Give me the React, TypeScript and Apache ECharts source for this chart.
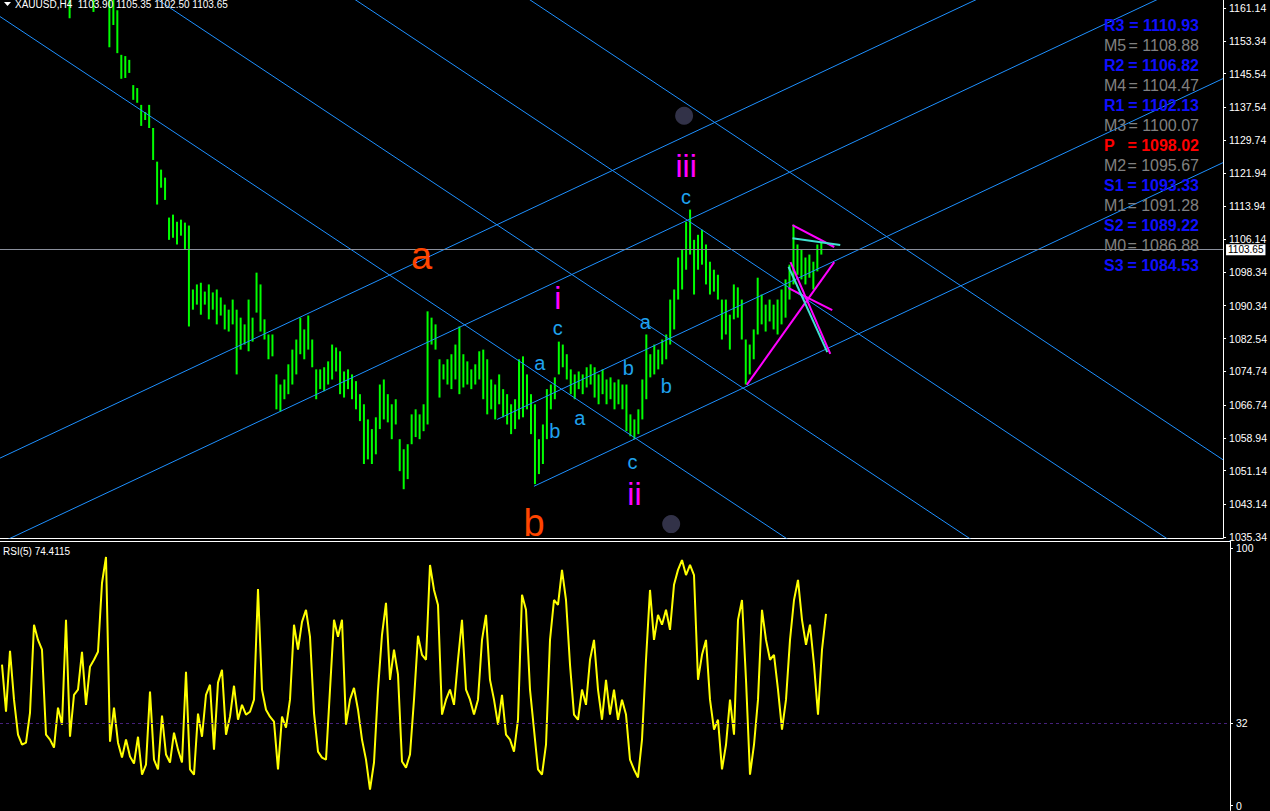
import React, { useEffect, useRef } from "react";
import * as echarts from "echarts";

// ---------- DATA ----------
const symbolName = "XAUUSD,H4";
const lastOHLC = [1103.9, 1105.35, 1102.5, 1103.65];
const lastPrice = 1103.65;
const rsiName = "RSI(5)";
const rsiLast = 74.4115;

const priceTicks = [1035.34, 1043.14, 1051.14, 1058.94, 1066.74, 1074.74, 1082.54, 1090.34, 1098.34, 1106.14, 1113.94, 1121.94, 1129.74, 1137.54, 1145.54, 1153.34, 1161.14];
const rsiTicks = [0, 32, 100];
const rsiLevel = 32;

const highs = [
  1171, 1173, 1172, 1170, 1174, 1176, 1175, 1172, 1170, 1173,
  1175, 1172, 1169, 1171, 1170, 1169, 1168, 1166, 1170, 1171,
  1170, 1169, 1168, 1166, 1170, 1172, 1170, 1167, 1165, 1160.6,
  1150.0, 1149.7, 1148.8, 1142.8, 1142.1, 1138.1, 1136.4, 1138.1, 1132.6, 1124.6,
  1122.7, 1120.8, 1111.3, 1112.0, 1110.3, 1110.8, 1110.1, 1109.4, 1094.2, 1095.4,
  1095.8, 1093.7, 1095.4, 1093.5, 1094.2, 1092.3, 1090.6, 1089.4, 1091.8, 1089.4,
  1087.5, 1085.9, 1091.8, 1087.5, 1098.2, 1095.4, 1087.1, 1083.5, 1083.5, 1074.0,
  1071.6, 1072.8, 1076.4, 1079.9, 1082.3, 1087.5, 1084.7, 1088.0, 1082.3, 1075.2,
  1075.2, 1075.7, 1077.1, 1081.1, 1080.4, 1079.5, 1074.7, 1075.2, 1074.0, 1072.4,
  1069.3, 1066.9, 1063.3, 1061.0, 1063.8, 1071.6, 1072.8, 1069.3, 1066.9, 1068.1,
  1058.6, 1056.2, 1057.4, 1064.5, 1065.7, 1064.5, 1066.9, 1089.0, 1087.5, 1085.9,
  1077.6, 1076.4, 1077.6, 1078.8, 1081.1, 1085.4, 1078.8, 1077.1, 1075.2, 1076.4,
  1079.5, 1079.9, 1077.6, 1072.8, 1071.6, 1074.0, 1070.5, 1069.3, 1066.9, 1068.1,
  1077.6, 1078.3, 1074.0, 1069.3, 1066.9, 1058.6, 1062.1, 1070.5, 1071.6, 1073.3,
  1081.8, 1081.1, 1078.8, 1075.2, 1074.0, 1074.7, 1074.0, 1075.7, 1076.4, 1075.7,
  1074.0, 1075.2, 1072.8, 1073.3, 1072.1, 1072.8, 1071.6, 1071.6, 1064.5, 1063.3,
  1065.7, 1072.8, 1083.5, 1078.8, 1081.1, 1079.9, 1082.3, 1083.5, 1091.8, 1094.2,
  1101.8, 1103.7, 1110.3, 1113.2, 1106.0, 1107.2, 1108.4, 1104.9, 1100.8, 1098.9,
  1097.7, 1091.8, 1091.8, 1088.2, 1095.4, 1094.7, 1091.8, 1082.3, 1081.1, 1084.7,
  1097.0, 1093.0, 1090.6, 1091.8, 1090.6, 1091.8, 1094.2, 1096.6, 1100.1, 1109.6,
  1104.9, 1103.7, 1101.8, 1102.5, 1100.8, 1104.9, 1105.35
];

const lows = [
  1166, 1167, 1166, 1165, 1168, 1169, 1167, 1165, 1164, 1166,
  1168, 1165, 1164, 1165, 1164, 1164, 1164, 1158.7, 1164, 1165,
  1164.5, 1164, 1163.5, 1160.2, 1164, 1165, 1163.5, 1151.8, 1157.1, 1150.4,
  1144.3, 1144.5, 1145.7, 1139.3, 1138.6, 1133.1, 1134.5, 1132.6, 1125.0, 1114.4,
  1118.4, 1115.5, 1106.0, 1106.5, 1104.9, 1107.0, 1103.7, 1085.4, 1089.4, 1090.6,
  1088.2, 1090.6, 1087.1, 1089.4, 1085.9, 1088.0, 1084.7, 1084.2, 1085.9, 1074.0,
  1079.9, 1081.1, 1079.5, 1081.8, 1088.7, 1084.2, 1082.3, 1077.6, 1078.3, 1065.7,
  1065.2, 1068.1, 1069.3, 1071.6, 1074.0, 1078.8, 1077.6, 1079.9, 1075.7, 1068.1,
  1070.5, 1070.0, 1071.6, 1072.8, 1074.7, 1069.3, 1068.5, 1070.5, 1068.1, 1065.7,
  1062.9, 1052.7, 1053.8, 1052.7, 1055.0, 1061.0, 1063.3, 1062.6, 1058.6, 1062.1,
  1051.0, 1046.7, 1049.1, 1057.4, 1059.1, 1058.6, 1060.5, 1062.1, 1081.1, 1079.9,
  1068.5, 1072.8, 1071.6, 1070.5, 1072.8, 1069.3, 1070.9, 1071.6, 1070.5, 1071.6,
  1072.8, 1068.1, 1064.5, 1065.7, 1063.3, 1066.9, 1063.8, 1062.1, 1059.8, 1061.0,
  1063.3, 1063.8, 1065.7, 1059.8, 1047.9, 1050.3, 1052.7, 1058.6, 1065.7, 1068.1,
  1074.0, 1075.7, 1072.8, 1069.3, 1068.1, 1070.5, 1069.3, 1070.9, 1071.6, 1068.5,
  1066.9, 1069.3, 1066.9, 1068.1, 1065.7, 1066.9, 1065.7, 1060.5, 1059.3, 1058.6,
  1059.8, 1063.3, 1068.1, 1073.3, 1074.0, 1075.2, 1076.4, 1077.6, 1081.1, 1084.7,
  1091.8, 1094.2, 1098.9, 1102.5, 1093.0, 1098.9, 1100.1, 1095.4, 1093.0, 1093.7,
  1091.8, 1082.3, 1083.5, 1079.9, 1087.1, 1087.5, 1082.3, 1071.6, 1074.0, 1077.6,
  1083.5, 1085.9, 1084.2, 1086.6, 1084.7, 1083.5, 1085.9, 1087.5, 1091.8, 1095.4,
  1097.7, 1096.6, 1095.4, 1097.0, 1094.2, 1098.5, 1102.5
];

const rsiValues = [
  54.7, 36.4, 60.1, 41.1, 27.5, 23.6, 24.4, 36.0, 70.2, 64.3,
  60.5, 27.5, 25.6, 22.5, 38.0, 31.4, 72.1, 26.7, 43.0, 45.0,
  59.7, 39.1, 53.9, 56.6, 59.7, 86.4, 96.5, 24.8, 38.0, 24.4,
  18.6, 25.6, 19.0, 16.3, 26.7, 12.0, 15.9, 44.2, 17.8, 14.0,
  34.9, 19.8, 16.7, 28.3, 21.7, 16.7, 51.9, 14.0, 12.0, 35.7,
  26.7, 43.0, 46.9, 21.7, 47.7, 52.7, 27.5, 34.5, 46.5, 33.3,
  39.1, 35.3, 36.4, 41.1, 84.1, 45.0, 37.2, 34.5, 32.6, 14.0,
  34.5, 30.2, 41.1, 70.2, 60.5, 71.3, 76.0, 65.5, 36.0, 20.9,
  18.6, 17.8, 45.0, 72.1, 65.5, 72.1, 31.4, 41.1, 45.7, 37.2,
  25.6, 17.8, 6.2, 16.7, 45.0, 66.3, 78.7, 48.8, 60.5, 50.8,
  17.1, 14.7, 19.8, 41.1, 65.9, 58.5, 56.6, 93.4, 83.7, 77.9,
  35.3, 41.1, 45.0, 39.1, 56.6, 72.1, 45.0, 41.1, 35.3, 41.1,
  64.3, 74.0, 48.8, 41.1, 31.4, 43.0, 27.5, 25.6, 20.9, 33.3,
  81.8, 76.0, 45.0, 29.5, 14.0, 12.0, 23.6, 64.3, 79.8, 77.9,
  91.5, 79.8, 54.7, 35.3, 33.3, 45.0, 39.1, 56.6, 64.3, 45.0,
  33.3, 48.8, 35.3, 45.0, 33.3, 41.1, 35.3, 17.8, 14.0, 10.9,
  25.6, 56.6, 83.7, 64.3, 74.0, 70.2, 76.0, 68.2, 85.7, 91.5,
  95.3, 89.5, 93.4, 89.5, 48.8, 58.5, 64.3, 41.1, 29.5, 33.3,
  14.0, 23.6, 41.1, 27.5, 72.1, 79.8, 48.8, 12.0, 23.6, 41.1,
  76.0, 64.3, 56.6, 58.5, 45.0, 29.5, 41.1, 64.3, 79.8, 87.6,
  72.1, 62.4, 70.2, 54.7, 35.3, 60.5, 74.4115
];

// pivot table
const pivotNames = ["R3", "M5", "R2", "M4", "R1", "M3", "P", "M2", "S1", "M1", "S2", "M0", "S3"];
const pivotValues = [1110.93, 1108.88, 1106.82, 1104.47, 1102.13, 1100.07, 1098.02, 1095.67, 1093.33, 1091.28, 1089.22, 1086.88, 1084.53];
const pivotKinds = ["R", "M", "R", "M", "R", "M", "P", "M", "S", "M", "S", "M", "S"];

// trend lines: [barIndex, price] pairs
const blueLines = [
  [[-0.5, 1033.9], [307, 1170.5]],
  [[-0.5, 1054.1], [307, 1190.7]],
  [[124.5, 1063.3], [307, 1144.35]],
  [[133.75, 1047.4], [307, 1124.37]],
  [[-0.5, 1159.1], [307, 966.1]],
  [[-0.5, 1188.0], [307, 995.0]],
  [[-0.5, 1219.2], [307, 1026.1]],
  [[-0.5, 1246.7], [307, 1053.7]],
];
const magentaLines = [
  [[187.25, 1071.5], [209.25, 1100.7]],
  [[198.75, 1109.5], [209.25, 1104.3]],
  [[197.75, 1094.5], [208.75, 1089.3]],
  [[198.25, 1100.7], [208.25, 1078.9]],
];
const cyanLines = [
  [[197.75, 1099.6], [207.5, 1079.3]],
  [[198.75, 1106.4], [210.75, 1104.8]],
];

// wave labels
const bigTexts = ["a", "b"];
const bigIdx = [105.5, 133.75];
const bigPrice = [1102.2, 1038.7];
const romanTexts = ["i", "ii", "iii"];
const romanIdx = [139.75, 159, 172];
const romanPrice = [1092.2, 1045.6, 1123.6];
const smallTexts = ["c", "a", "b", "a", "b", "a", "b", "c", "c"];
const smallIdx = [139.75, 135.25, 139, 145.25, 157.5, 161.75, 167, 158.5, 172];
const smallPrice = [1085.0, 1076.7, 1060.5, 1063.6, 1075.5, 1086.5, 1071.2, 1053.2, 1116.2];
const dotIdx = [171.5, 168.25];
const dotPrice = [1135.5, 1038.4];

const FONT = '"Liberation Sans", Arial, sans-serif';

function textSeries(texts: string[], idx: number[], price: number[], color: string, size: number) {
  return {
    type: "custom",
    xAxisIndex: 0,
    yAxisIndex: 0,
    silent: true,
    clip: false,
    z: 10,
    data: idx.map((x, k) => [x, price[k]]),
    renderItem: (params: any, api: any) => {
      const pt = api.coord([api.value(0), api.value(1)]);
      return {
        type: "text",
        x: pt[0],
        y: pt[1],
        style: {
          text: texts[params.dataIndex],
          fill: color,
          fontSize: size,
          fontFamily: FONT,
          align: "center",
          verticalAlign: "middle",
        },
      };
    },
  };
}

function lineSeries(lines: number[][][], color: string, width: number, z: number) {
  return lines.map((seg) => ({
    type: "line",
    xAxisIndex: 0,
    yAxisIndex: 0,
    data: seg,
    showSymbol: false,
    symbol: "none",
    silent: true,
    clip: true,
    z,
    lineStyle: { color, width },
  }));
}

export default function App() {
  const ref = useRef<HTMLDivElement>(null);
  useEffect(() => {
    document.body.style.margin = "0";
    document.body.style.background = "#000";
    const chart = echarts.init(ref.current as HTMLDivElement, undefined, { renderer: "svg" });

    const pivotColor = (k: string) => (k === "R" || k === "S" ? "#1010ff" : k === "P" ? "#ff0000" : "#808080");
    const pivotGraphics: any[] = [];
    pivotNames.forEach((n, k) => {
      const col = pivotColor(pivotKinds[k]);
      const weight = pivotKinds[k] === "M" ? "normal" : "bold";
      pivotGraphics.push({
        type: "text", x: 1104, y: 25 + 20 * k, silent: true, z: 100,
        style: { text: n, fill: col, fontSize: 16, fontWeight: weight, fontFamily: FONT, align: "left", verticalAlign: "middle" },
      });
      pivotGraphics.push({
        type: "text", x: 1199, y: 25 + 20 * k, silent: true, z: 100,
        style: { text: "= " + pivotValues[k].toFixed(2), fill: col, fontSize: 16, fontWeight: weight, fontFamily: FONT, align: "right", verticalAlign: "middle" },
      });
    });

    const option: any = {
      animation: false,
      backgroundColor: "#000",
      grid: [
        { left: 0, top: 0, width: 1230, height: 538 },
        { left: 0, top: 541, width: 1230, height: 270 },
      ],
      xAxis: [
        {
          gridIndex: 0, type: "value", min: -0.5, max: 307,
          axisLine: { show: true, onZero: false, lineStyle: { color: "#ffffff", width: 1 } },
          axisTick: { show: false }, axisLabel: { show: false }, splitLine: { show: false },
        },
        {
          gridIndex: 1, type: "value", min: -0.5, max: 307, position: "top",
          axisLine: { show: true, onZero: false, lineStyle: { color: "#ffffff", width: 1 } },
          axisTick: { show: false }, axisLabel: { show: false }, splitLine: { show: false },
        },
      ],
      yAxis: [
        {
          gridIndex: 0, type: "value", position: "right", min: 1035.1, max: 1163.04, scale: true,
          axisLine: { show: true, onZero: false, lineStyle: { color: "#ffffff", width: 1 } },
          axisTick: { show: true, inside: false, length: 3, customValues: priceTicks, lineStyle: { color: "#ffffff" } },
          axisLabel: {
            show: true, customValues: priceTicks, color: "#ffffff", fontSize: 10.5, fontFamily: FONT, margin: 6,
            formatter: (v: number) => v.toFixed(2),
          },
          splitLine: { show: false },
        },
        {
          gridIndex: 1, type: "value", position: "right", min: -1.94, max: 102.71,
          axisLine: { show: true, onZero: false, lineStyle: { color: "#ffffff", width: 1 } },
          axisTick: { show: true, inside: false, length: 3, customValues: rsiTicks, lineStyle: { color: "#ffffff" } },
          axisLabel: {
            show: true, customValues: rsiTicks, color: "#ffffff", fontSize: 10.5, fontFamily: FONT, margin: 6,
            formatter: (v: number) => String(Math.round(v)),
          },
          splitLine: { show: false },
        },
      ],
      graphic: [
        {
          type: "polygon", silent: true, z: 100,
          shape: { points: [[4, 2], [11, 2], [7.5, 6]] },
          style: { fill: "#ffffff" },
        },
        {
          type: "text", x: 15, y: 4, silent: true, z: 100,
          style: {
            text: symbolName + "  " + lastOHLC.map((v) => v.toFixed(2)).join(" "),
            fill: "#ffffff", fontSize: 10, fontFamily: FONT, align: "left", verticalAlign: "middle",
          },
        },
        {
          type: "text", x: 3, y: 551, silent: true, z: 100,
          style: {
            text: rsiName + " " + rsiLast.toFixed(4),
            fill: "#ffffff", fontSize: 10, fontFamily: FONT, align: "left", verticalAlign: "middle",
          },
        },
        ...pivotGraphics,
      ],
      series: [
        {
          type: "custom",
          name: "bars",
          xAxisIndex: 0,
          yAxisIndex: 0,
          silent: true,
          clip: true,
          z: 2,
          encode: { x: 0, y: [1, 2] },
          data: highs.map((h, i) => [i, h, lows[i]]),
          renderItem: (params: any, api: any) => {
            const top = api.coord([api.value(0), api.value(1)]);
            const bot = api.coord([api.value(0), api.value(2)]);
            return {
              type: "rect",
              shape: { x: top[0] - 1, y: top[1], width: 2, height: Math.max(1, bot[1] - top[1]) },
              style: { fill: "#00ff00" },
            };
          },
          markLine: {
            silent: true,
            symbol: ["none", "none"],
            data: [{ yAxis: lastPrice }],
            lineStyle: { color: "#8a8f9c", width: 1, type: "solid" },
            label: {
              show: true, position: "end", distance: 3,
              formatter: lastPrice.toFixed(2),
              backgroundColor: "#ffffff", color: "#000000", fontSize: 10, fontFamily: FONT,
              padding: [1, 2, 0, 2],
            },
          },
        },
        ...lineSeries(blueLines, "#1e90ff", 1, 3),
        ...lineSeries(magentaLines, "#ff00ff", 2, 4),
        ...lineSeries(cyanLines, "#40e0d0", 2, 5),
        {
          type: "scatter",
          xAxisIndex: 0,
          yAxisIndex: 0,
          silent: true,
          z: 6,
          symbolSize: 18,
          itemStyle: { color: "#3e3e5a" },
          data: dotIdx.map((x, k) => [x, dotPrice[k]]),
        },
        textSeries(bigTexts, bigIdx, bigPrice, "#ff4500", 38),
        textSeries(romanTexts, romanIdx, romanPrice, "#ff00ff", 32),
        textSeries(smallTexts, smallIdx, smallPrice, "#1fa2ee", 20),
        {
          type: "line",
          name: "rsi",
          xAxisIndex: 1,
          yAxisIndex: 1,
          data: rsiValues.map((v, i) => [i, v]),
          showSymbol: false,
          symbol: "none",
          silent: true,
          z: 3,
          lineStyle: { color: "#ffff00", width: 2 },
          markLine: {
            silent: true,
            symbol: ["none", "none"],
            data: [{ yAxis: rsiLevel }],
            lineStyle: { color: "#45207a", width: 1, type: [3, 3] },
            label: { show: false },
          },
        },
      ],
    };
    chart.setOption(option);
    return () => chart.dispose();
  }, []);
  return <div ref={ref} style={{ position: "fixed", left: 0, top: 0, width: 1270, height: 811, background: "#000" }} />;
}
